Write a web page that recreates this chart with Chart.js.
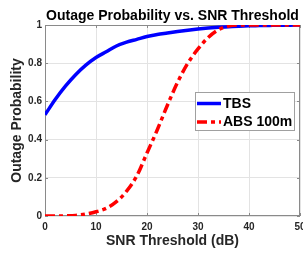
<!DOCTYPE html>
<html>
<head>
<meta charset="utf-8">
<script src="https://cdn.jsdelivr.net/npm/chart.js@4.4.0/dist/chart.umd.min.js"></script>
<style>
  html, body { margin: 0; padding: 0; background: #fff; overflow: hidden; }
</style>
</head>
<body>
<canvas id="grafico" width="303" height="259"></canvas>
<script>
// Valores (limiar de SNR em dB)
const snrDb = [0, 2, 4, 6, 8, 10, 12, 14, 16, 18, 20, 22, 24, 26, 28, 30, 32, 34, 36, 38, 40, 42, 44, 46, 48, 50];
const tbsValues = [0.53, 0.61, 0.68, 0.74, 0.79, 0.83, 0.86, 0.89, 0.91, 0.925, 0.94, 0.95, 0.958, 0.966, 0.973,
    0.979, 0.984, 0.988, 0.991, 0.994, 0.996, 0.997, 0.998, 0.999, 0.999, 1.0];
const absValues = [0, 0, 0.001, 0.003, 0.01, 0.022, 0.04, 0.075, 0.13, 0.21, 0.33, 0.45, 0.58, 0.70, 0.80,
    0.875, 0.935, 0.975, 0.995, 1, 1, 1, 1, 1, 1, 1];
const seriesLabels = ['TBS', 'ABS 100m'];
const xTicks = [0, 10, 20, 30, 40, 50];
const yTicks = [0, 0.2, 0.4, 0.6, 0.8, 1];

const fonte = "'Liberation Sans', Arial, sans-serif";
const corTexto = '#262626';

function toPoints(xs, ys) {
    return xs.map((x, i) => ({ x: x, y: ys[i] }));
}

// Moldura (box on) com marcas de escala para dentro
const framePlugin = {
    id: 'frame',
    beforeDatasetsDraw(chart) {
        const { ctx, chartArea: a, scales } = chart;
        ctx.save();
        ctx.strokeStyle = '#8a8a8a';
        ctx.lineWidth = 1;
        ctx.strokeRect(a.left + 0.5, a.top + 0.5, a.right - a.left - 1, a.bottom - a.top - 1);
        ctx.beginPath();
        xTicks.forEach(v => {
            const px = Math.round(scales.x.getPixelForValue(v)) + 0.5;
            ctx.moveTo(px, a.bottom); ctx.lineTo(px, a.bottom - 3);
            ctx.moveTo(px, a.top); ctx.lineTo(px, a.top + 3);
        });
        yTicks.forEach(v => {
            const py = Math.round(scales.y.getPixelForValue(v)) + 0.5;
            ctx.moveTo(a.left, py); ctx.lineTo(a.left + 3, py);
            ctx.moveTo(a.right, py); ctx.lineTo(a.right - 3, py);
        });
        ctx.stroke();
        ctx.restore();
    }
};

// Título centralizado sobre a área do gráfico e legenda dentro dos eixos
const textPlugin = {
    id: 'textos',
    afterDatasetsDraw(chart) {
        const { ctx, chartArea: a } = chart;
        ctx.save();
        ctx.fillStyle = '#000';
        ctx.font = 'bold 14px ' + fonte;
        ctx.textAlign = 'center';
        ctx.textBaseline = 'alphabetic';
        ctx.fillText('Outage Probability vs. SNR Threshold', (a.left + a.right) / 2, 20);

        // legenda
        const lx = 195, ly = 92, lw = 100, lh = 39;
        ctx.fillStyle = '#fff';
        ctx.fillRect(lx, ly, lw, lh);
        ctx.strokeStyle = '#a0a0a0';
        ctx.lineWidth = 1;
        ctx.strokeRect(lx + 0.5, ly + 0.5, lw - 1, lh - 1);
        const rows = [103.5, 122];
        chart.data.datasets.forEach((ds, i) => {
            const y = rows[i];
            ctx.beginPath();
            ctx.strokeStyle = ds.borderColor;
            ctx.lineWidth = ds.borderWidth;
            ctx.setLineDash(ds.borderDash || []);
            ctx.moveTo(197, y);
            ctx.lineTo(221, y);
            ctx.stroke();
            ctx.setLineDash([]);
            ctx.fillStyle = '#000';
            ctx.font = 'bold 14px ' + fonte;
            ctx.textAlign = 'left';
            ctx.textBaseline = 'middle';
            ctx.fillText(ds.label, 223, y + 0.5);
        });
        ctx.restore();
    }
};

const ctx = document.getElementById('grafico').getContext('2d');

new Chart(ctx, {
    type: 'line',
    data: {
        datasets: [{
            label: seriesLabels[0],
            data: toPoints(snrDb, tbsValues),
            borderColor: '#0000ff',
            borderWidth: 3.5,
            pointRadius: 0,
            cubicInterpolationMode: 'monotone',
            order: 1
        }, {
            label: seriesLabels[1],
            data: toPoints(snrDb, absValues),
            borderColor: '#ff0000',
            borderWidth: 3.5,
            borderDash: [10, 4, 4, 4],
            borderCapStyle: 'butt',
            pointRadius: 0,
            cubicInterpolationMode: 'monotone',
            order: 0
        }]
    },
    options: {
        responsive: false,
        animation: false,
        layout: { padding: { top: 25, right: 3, left: 0, bottom: 0 } },
        scales: {
            x: {
                type: 'linear',
                min: 0,
                max: 50,
                afterBuildTicks: s => { s.ticks = xTicks.map(v => ({ value: v })); },
                afterFit: s => { s.height = 43; s.paddingRight = 0; s.paddingLeft = 0; },
                border: { display: false },
                grid: { color: '#e3e3e3', drawTicks: false },
                ticks: {
                    color: corTexto,
                    padding: 5,
                    maxRotation: 0,
                    callback: v => String(v),
                    font: { family: fonte, size: 10, weight: 'bold' }
                },
                title: {
                    display: true,
                    text: 'SNR Threshold (dB)',
                    color: '#262626',
                    padding: { top: 0, bottom: 9 },
                    font: { family: fonte, size: 14, weight: 'bold' }
                }
            },
            y: {
                min: 0,
                max: 1,
                afterBuildTicks: s => { s.ticks = yTicks.map(v => ({ value: v })); },
                afterFit: s => { s.width = 45; },
                border: { display: false },
                grid: { color: '#e3e3e3', drawTicks: false },
                ticks: {
                    color: corTexto,
                    padding: 3,
                    callback: v => String(v),
                    font: { family: fonte, size: 10, weight: 'bold' }
                },
                title: {
                    display: true,
                    text: 'Outage Probability',
                    color: '#262626',
                    padding: { top: 9, bottom: 0 },
                    font: { family: fonte, size: 14, weight: 'bold' }
                }
            }
        },
        plugins: {
            legend: { display: false },
            title: { display: false },
            tooltip: { enabled: false }
        }
    },
    plugins: [framePlugin, textPlugin]
});
</script>
</body>
</html>
